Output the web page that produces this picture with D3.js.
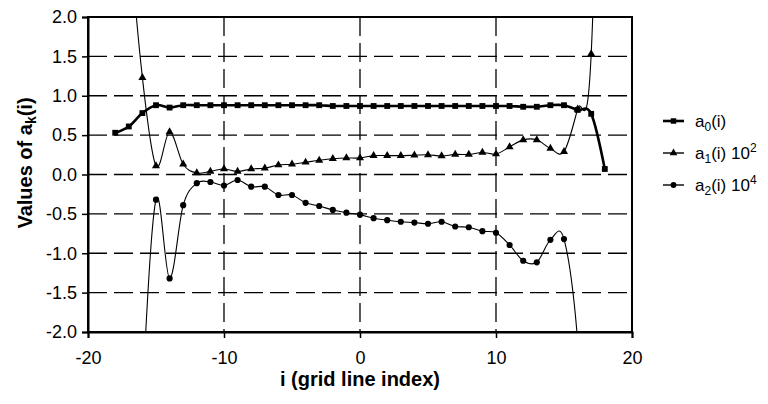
<!DOCTYPE html>
<html>
<head>
<meta charset="utf-8">
<style>
  body { margin: 0; background: #fff; }
  text { font-family: "Liberation Sans", Arial, sans-serif; fill: #000; }
</style>
</head>
<body>
<svg width="768" height="404"></svg>
<script src="https://d3js.org/d3.v7.min.js"></script>
<script>

    // grid line index
    var idx = [-18, -17, -16, -15, -14, -13, -12, -11, -10, -9, -8, -7, -6, -5, -4, -3, -2, -1,
               0, 1, 2, 3, 4, 5, 6, 7, 8, 9, 10, 11, 12, 13, 14, 15, 16, 17, 18];

    var a0 = [0.53, 0.61, 0.78, 0.88, 0.85, 0.88, 0.88, 0.88, 0.88, 0.88, 0.88, 0.88, 0.88, 0.88,
              0.88, 0.88, 0.87, 0.87, 0.87, 0.87, 0.87, 0.87, 0.87, 0.87, 0.87, 0.87, 0.87, 0.87,
              0.87, 0.87, 0.86, 0.86, 0.88, 0.88, 0.82, 0.77, 0.07];

    // a1(i) * 10^2
    var a1 = [6.0, 3.2, 1.23, 0.11, 0.54, 0.13, 0.02, 0.04, 0.07, 0.04, 0.07, 0.08, 0.12, 0.13,
              0.155, 0.18, 0.20, 0.21, 0.21, 0.24, 0.24, 0.24, 0.245, 0.25, 0.235, 0.255, 0.255,
              0.28, 0.26, 0.35, 0.44, 0.44, 0.33, 0.29, 0.83, 1.53, 8.0];

    // a2(i) * 10^4
    var a2 = [-12, -7, -2.8, -0.32, -1.32, -0.39, -0.11, -0.095, -0.14, -0.07, -0.155, -0.155,
              -0.26, -0.26, -0.36, -0.40, -0.45, -0.485, -0.51, -0.555, -0.58, -0.60, -0.61,
              -0.625, -0.60, -0.66, -0.67, -0.72, -0.74, -0.895, -1.095, -1.115, -0.83, -0.82,
              -2.1, -5, -9];

    var xTicks = [-20, -10, 0, 10, 20];
    var yTicks = [-2.0, -1.5, -1.0, -0.5, 0.0, 0.5, 1.0, 1.5, 2.0];

    var svg = d3.select("svg"),
        margin = {top: 17, right: 136, bottom: 72, left: 88},
        width = +svg.attr("width") - margin.left - margin.right,
        height = +svg.attr("height") - margin.top - margin.bottom,
        g = svg.append("g").attr("transform", "translate(" + margin.left + "," + margin.top + ")");

    var x = d3.scaleLinear().domain([-20, 20]).range([0, width]);
    var y = d3.scaleLinear().domain([-2, 2]).range([height, 0]);

    // plain hyphen for negatives, like the original
    function hy(f) { return function(d) { return f(d).replace("\u2212", "-"); }; }

    svg.append("defs").append("clipPath").attr("id", "clip")
        .append("rect").attr("width", width).attr("height", height);

    // dashed grid
    g.append("g").selectAll("line")
        .data(yTicks.filter(function(d) { return d > -2 && d < 2; }))
        .enter().append("line")
        .attr("x1", 0).attr("x2", width)
        .attr("y1", function(d) { return y(d); }).attr("y2", function(d) { return y(d); })
        .attr("stroke", "#000").attr("stroke-width", 1.3)
        .attr("stroke-dasharray", "19,7");

    g.append("g").selectAll("line")
        .data(xTicks.filter(function(d) { return d > -20 && d < 20; }))
        .enter().append("line")
        .attr("x1", function(d) { return x(d); }).attr("x2", function(d) { return x(d); })
        .attr("y1", 0).attr("y2", height)
        .attr("stroke", "#000").attr("stroke-width", 1.3)
        .attr("stroke-dasharray", "19,7");

    // frame
    g.append("rect").attr("width", width).attr("height", height)
        .attr("fill", "none").attr("stroke", "#000").attr("stroke-width", 2);

    // axes
    var xAxis = g.append("g")
        .attr("transform", "translate(0," + height + ")")
        .call(d3.axisBottom(x).tickValues(xTicks).tickSize(6).tickPadding(13)
              .tickFormat(hy(d3.format("d"))));
    var yAxis = g.append("g")
        .call(d3.axisLeft(y).tickValues(yTicks).tickSize(6).tickPadding(5)
              .tickFormat(hy(d3.format(".1f"))));

    [xAxis, yAxis].forEach(function(ax) {
        ax.select(".domain").attr("stroke-width", 2);
        ax.selectAll(".tick line").attr("stroke-width", 1.5);
        ax.selectAll("text").style("font-family", "'Liberation Sans', Arial, sans-serif")
            .style("font-size", "18px").attr("fill", "#000");
    });

    // series
    var plot = g.append("g").attr("clip-path", "url(#clip)");

    function series(vals, lw, shape, size) {
        var pts = idx.map(function(d, k) { return [d, vals[k]]; });
        var line = d3.line()
            .x(function(d) { return x(d[0]); })
            .y(function(d) { return y(d[1]); })
            .curve(d3.curveCardinal.tension(0));
        plot.append("path").datum(pts)
            .attr("fill", "none").attr("stroke", "#000").attr("stroke-width", lw)
            .attr("d", line);
        plot.append("g").selectAll("path")
            .data(pts).enter().append("path")
            .attr("transform", function(d) { return "translate(" + x(d[0]) + "," + y(d[1]) + ")"; })
            .attr("d", d3.symbol().type(shape).size(size))
            .attr("fill", "#000");
    }

    series(a2, 1.1, d3.symbolCircle, 30);
    series(a1, 1.1, d3.symbolTriangle, 28);
    series(a0, 2.6, d3.symbolSquare, 34);

    // axis titles
    svg.append("text")
        .attr("x", margin.left + width / 2).attr("y", 386)
        .attr("text-anchor", "middle")
        .style("font-size", "20px").style("font-weight", "bold")
        .text("i (grid line index)");

    var yt = svg.append("text")
        .attr("transform", "translate(32," + 163 + ") rotate(-90)")
        .attr("text-anchor", "middle")
        .style("font-size", "20px").style("font-weight", "bold");
    yt.append("tspan").text("Values of a");
    yt.append("tspan").attr("dy", 4).style("font-size", "14px").text("k");
    yt.append("tspan").attr("dy", -4).text("(i)");

    // legend
    var legendItems = [
        {sub: "0", pow: null, shape: d3.symbolSquare, lw: 2.6, size: 30},
        {sub: "1", pow: "2", shape: d3.symbolTriangle, lw: 1.4, size: 26},
        {sub: "2", pow: "4", shape: d3.symbolCircle, lw: 1.4, size: 26}
    ];
    var leg = svg.append("g");
    legendItems.forEach(function(it, k) {
        var ly = 121 + k * 32;
        leg.append("line").attr("x1", 663).attr("x2", 684).attr("y1", ly).attr("y2", ly)
            .attr("stroke", "#000").attr("stroke-width", it.lw);
        leg.append("path").attr("transform", "translate(673.5," + ly + ")")
            .attr("d", d3.symbol().type(it.shape).size(it.size)).attr("fill", "#000");
        var t = leg.append("text").attr("x", 695).attr("y", ly + 6).style("font-size", "17px");
        t.append("tspan").text("a");
        t.append("tspan").attr("dy", 4).style("font-size", "12px").text(it.sub);
        t.append("tspan").attr("dy", -4).text(it.pow ? "(i) 10" : "(i)");
        if (it.pow) t.append("tspan").attr("dy", -7).style("font-size", "12px").text(it.pow);
    });

</script>
</body>
</html>
